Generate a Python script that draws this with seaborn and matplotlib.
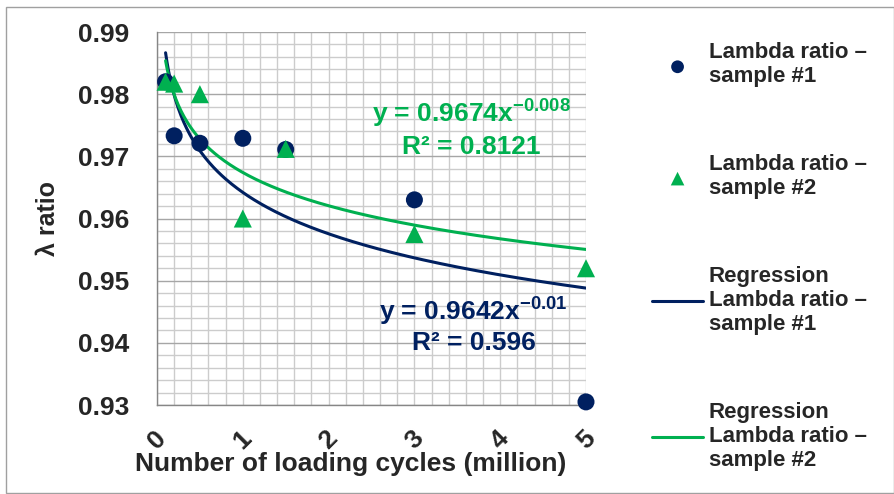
import numpy as np
import pandas as pd
import matplotlib
matplotlib.use("Agg")
import matplotlib.pyplot as plt
import seaborn as sns
from matplotlib.ticker import MultipleLocator
from matplotlib.patches import Rectangle

# data
cycles = [0.1, 0.2, 0.5, 1.0, 1.5, 3.0, 5.0]
ratio_s1 = [0.9820, 0.9733, 0.9721, 0.9729, 0.9711, 0.9630, 0.9305]
ratio_s2 = [0.9820, 0.9817, 0.9800, 0.9600, 0.9712, 0.9575, 0.9520]

# power-law trendlines printed on the chart: y = a * x^b
fit_a = [0.9642, 0.9674]
fit_b = [-0.01, -0.008]
fit_r2 = ["0.596", "0.8121"]

labels = ["Lambda ratio \u2013\nsample #1", "Lambda ratio \u2013\nsample #2",
          "Regression\nLambda ratio \u2013\nsample #1", "Regression\nLambda ratio \u2013\nsample #2"]

navy = "#002060"
green = "#00B050"

sns.set_style("white")
plt.rcParams["font.family"] = ["Liberation Sans", "DejaVu Sans"]
plt.rcParams["font.weight"] = "bold"
plt.rcParams["mathtext.default"] = "regular"

fig = plt.figure(figsize=(8.95, 4.94), dpi=100)
ax = fig.add_axes([157 / 895, 1 - 405 / 494, (586 - 157) / 895, (405 - 32) / 494])

df = pd.DataFrame({"cycles": cycles, "s1": ratio_s1, "s2": ratio_s2})
x_fit = np.linspace(min(cycles), max(cycles), 300)
fit_df = pd.DataFrame({"x": x_fit,
                       "f1": fit_a[0] * x_fit ** fit_b[0],
                       "f2": fit_a[1] * x_fit ** fit_b[1]})

sns.lineplot(data=fit_df, x="x", y="f1", ax=ax, color=navy, lw=2.2, label=labels[2], zorder=3)
sns.lineplot(data=fit_df, x="x", y="f2", ax=ax, color=green, lw=2.2, label=labels[3], zorder=3)
sns.scatterplot(data=df, x="cycles", y="s1", ax=ax, color=navy, marker="o", s=150,
                edgecolor="none", label=labels[0], zorder=4, clip_on=False)
sns.scatterplot(data=df, x="cycles", y="s2", ax=ax, color=green, marker="^", s=170,
                edgecolor="none", label=labels[1], zorder=5, clip_on=False)

ax.set_xlim(0, 5)
ax.set_ylim(0.93, 0.99)
ax.xaxis.set_major_locator(MultipleLocator(1))
ax.xaxis.set_minor_locator(MultipleLocator(0.2))
ax.yaxis.set_major_locator(MultipleLocator(0.01))
ax.yaxis.set_minor_locator(MultipleLocator(0.002))
ax.set_yticklabels([f"{v:.2f}" for v in ax.get_yticks()])

ax.grid(which="minor", color="#cccccc", lw=1)
ax.grid(which="major", axis="x", color="#cccccc", lw=1)
ax.grid(which="major", axis="y", color="#a6a6a6", lw=1)
ax.set_axisbelow(True)
for side in ["top", "right"]:
    ax.spines[side].set_visible(False)
for side in ["left", "bottom"]:
    ax.spines[side].set_color("#868686")
    ax.spines[side].set_linewidth(1)

ax.tick_params(axis="both", which="major", direction="out", length=7, color="#868686",
               labelsize=19, width=1)
ax.tick_params(axis="y", which="major", pad=13)
ax.tick_params(axis="x", which="major", pad=8)
ax.tick_params(which="minor", length=0)
for lbl in ax.get_xticklabels():
    lbl.set_rotation(45)
    lbl.set_ha("center")
    lbl.set_fontweight("bold")
for lbl in ax.get_yticklabels():
    lbl.set_fontweight("bold")

ax.set_xlabel("Number of loading cycles (million)", fontsize=19, fontweight="bold")
ax.xaxis.set_label_coords((351 - 157) / (586 - 157), -(452 - 405) / (405 - 32))
ax.set_ylabel("\u03bb ratio", fontsize=18, fontweight="bold")
ax.yaxis.set_label_coords(-(157 - 60) / (586 - 157), 0.5)

ax.text(3.66, 0.9768, f"y = {fit_a[1]}x$^{{{fit_b[1]}}}$", color=green, fontsize=19,
        fontweight="bold", ha="center", va="center")
ax.text(3.66, 0.9715, f"R\u00b2 = {fit_r2[1]}", color=green, fontsize=19,
        fontweight="bold", ha="center", va="center")
ax.text(3.69, 0.9449, f"y = {fit_a[0]}x$^{{{fit_b[0]}}}$", color=navy, fontsize=19,
        fontweight="bold", ha="center", va="center")
ax.text(3.69, 0.9400, f"R\u00b2 = {fit_r2[0]}", color=navy, fontsize=19,
        fontweight="bold", ha="center", va="center")

handles, lbls = ax.get_legend_handles_labels()
order = [lbls.index(l) for l in labels]
ax.get_legend().remove()
fig.legend([handles[i] for i in order], [lbls[i] for i in order],
           loc="upper left", bbox_to_anchor=(632 / 895, 1 - 22 / 494),
           frameon=False, labelspacing=3.0, handlelength=2.3,
           handletextpad=0.25, markerscale=0.75, prop={"weight": "bold", "size": 16})

fig.patches.append(Rectangle((6 / 895, 1 / 494), 888 / 895, 486 / 494, transform=fig.transFigure,
                             fill=False, edgecolor="#a0a0a0", lw=1))

fig.savefig("out.png", dpi=100)
